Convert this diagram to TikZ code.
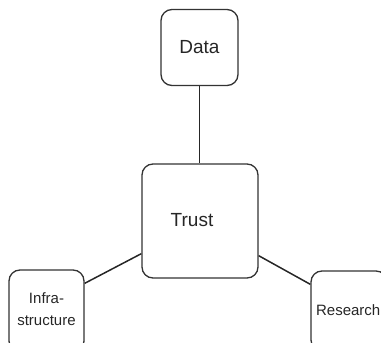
\documentclass[tikz,border=0pt]{standalone}
\usepackage{fontspec}
\setmainfont{Liberation Sans}
\usetikzlibrary{calc}
\tikzset{
  box/.style={draw=black!80, line width=1.3pt, rounded corners=11pt, inner sep=0pt, text=black!85},
  link/.style={draw=black!85, line width=1.5pt}
}
\begin{document}
\begin{tikzpicture}[x=1pt,y=-1pt]
\useasboundingbox (0,0) rectangle (381,343);
\clip (0,0) rectangle (381,343);
\node[box, minimum width=77pt, minimum height=76pt, font=\fontsize{19}{22}\selectfont] (data) at (199.5,47.5) {Data};
\node[box, minimum width=116pt, minimum height=114pt] (trust) at (200,221) {};
\node[font=\fontsize{19}{22}\selectfont, text=black!85] (trustlabel) at (192,220) {Trust};
\node[box, minimum width=75pt, minimum height=82pt] (infra) at (46.5,311) {};
\node[font=\fontsize{15}{22}\selectfont, align=center, text=black!85] (infralabel) at (46.5,309) {Infra-\\structure};
\node[box, minimum width=76pt, minimum height=80pt] (research) at (349,311) {};
\node[font=\fontsize{15}{18}\selectfont, text=black!85, anchor=east, inner xsep=0pt] (researchlabel) at (380.5,310) {Research};
\draw[link] (data.south) -- (data.south |- trust.north);
\draw[link] ($(infra.north east)+(0,14)$) -- ($(trust.south west)+(0,-25)$);
\draw[link] ($(research.north west)+(0,14)$) -- ($(trust.south east)+(0,-23)$);
\end{tikzpicture}
\end{document}
